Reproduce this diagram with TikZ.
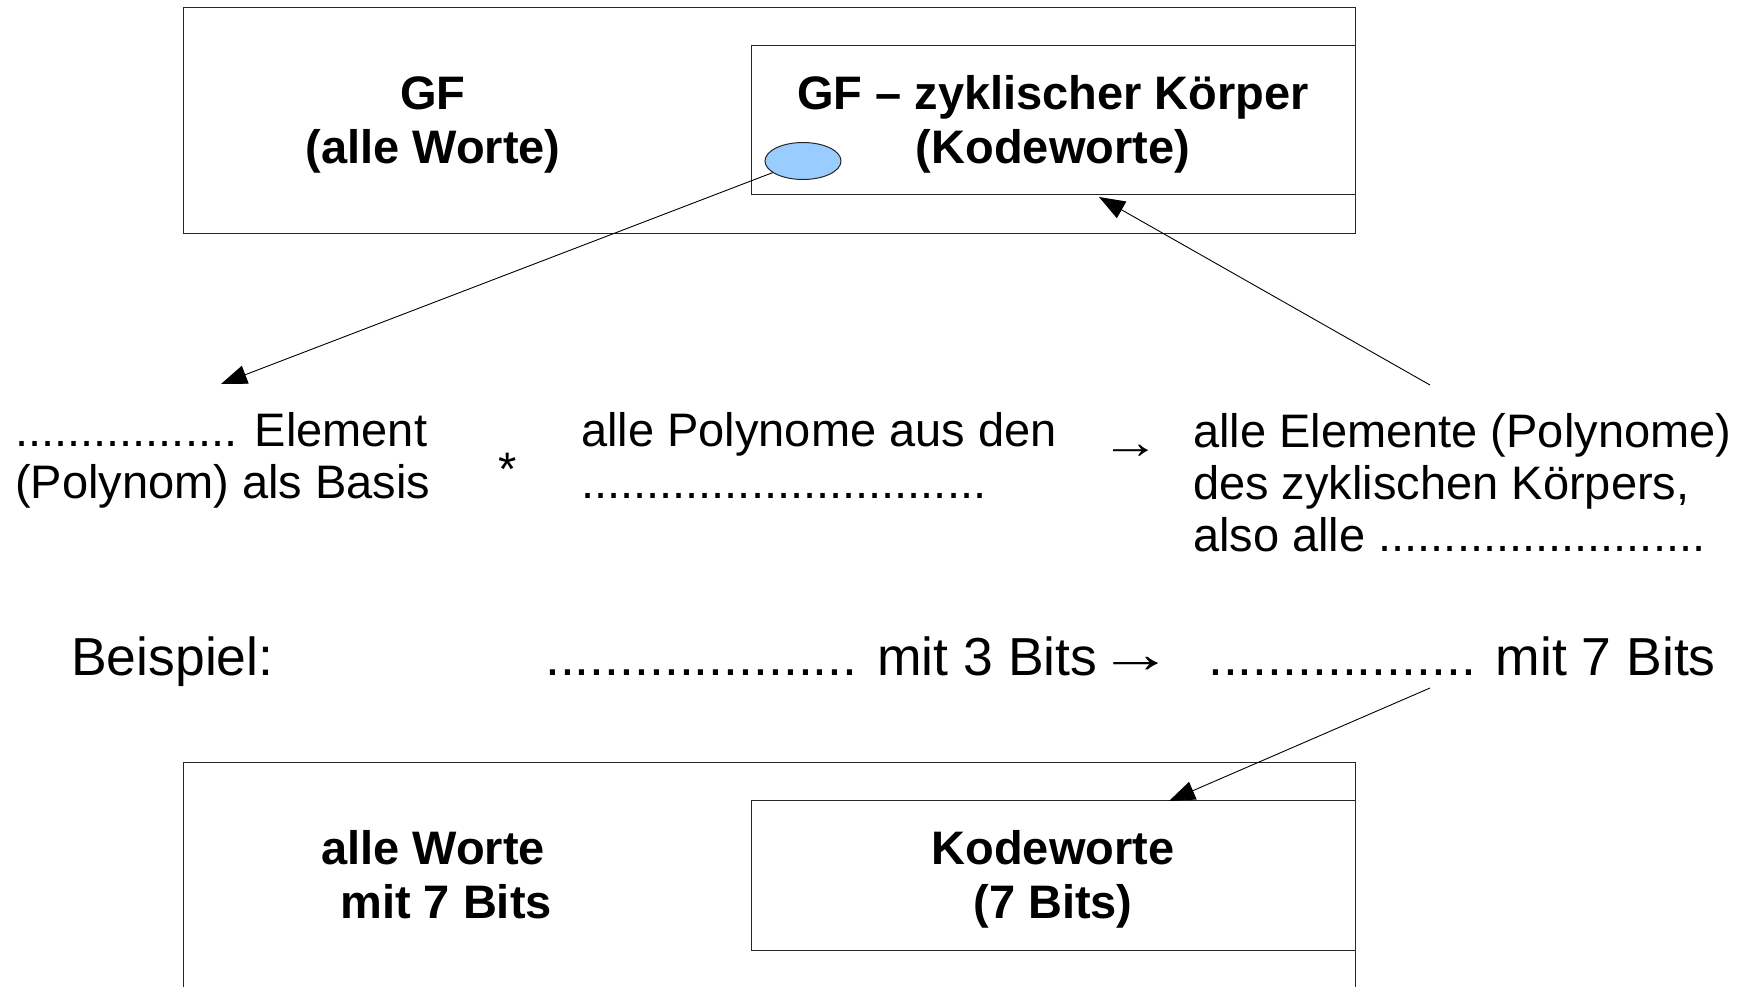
\documentclass[tikz,border=0pt]{standalone}
\usepackage{fontspec}
\setmainfont{Liberation Sans}
\usetikzlibrary{arrows.meta,shapes.geometric}
\definecolor{cellblue}{RGB}{153,204,255}

\begin{document}
\begin{tikzpicture}[x=1pt,y=-1pt,
  frame/.style={draw=black!85,line width=1.2pt,inner sep=0pt,anchor=north west},
  lbl/.style={font=\fontsize{47}{54}\selectfont\bfseries,align=center,inner sep=0pt,anchor=base},
  txt/.style={font=\fontsize{47}{52}\selectfont,align=left,inner sep=0pt,anchor=base west},
  bigtxt/.style={font=\fontsize{53.5}{60}\selectfont,inner sep=0pt,anchor=base west},
  conn/.style={line width=0.9pt,-{Triangle[length=26pt,width=19pt]}}]
\clip (0,0) rectangle (1762,986);
\fill[white] (0,0) rectangle (1762,986);

% upper field: all words and the cyclic field inside it
\node[frame,minimum width=1172pt,minimum height=226pt] (gfall) at (183,7) {};
\node[frame,minimum width=604pt,minimum height=149pt] (gfcyc) at (751,45) {};
\node[lbl] (gfalltxt) at (433,163) {GF\\(alle Worte)};
\node[lbl] (gfcyctxt) at (1053,163) {GF -- zyklischer Körper\\(Kodeworte)};
\node[ellipse,draw=black!85,line width=1pt,fill=cellblue,minimum width=76pt,minimum height=37pt,inner sep=0pt] (elem) at (803,161) {};

% explanation row
\node[txt] (basis) at (15,498) {................. Element\\(Polynom) als Basis};
\node[font=\fontsize{47}{52}\selectfont,inner sep=0pt,anchor=base] (times) at (508,485) {*};
\node[txt] (polys) at (581,498) {alle Polynome aus den\\...............................};
\node[font=\fontsize{47}{52}\selectfont,inner sep=0pt] (gives) at (1131,452) {\scalebox{1.25}[1]{→}};
\node[txt] (result) at (1193,551) {alle Elemente (Polynome)\\des zyklischen Körpers,\\also alle .........................};

% example row
\node[bigtxt] (bsp) at (71,675) {Beispiel:};
\node[bigtxt] (in3) at (545,675) {..................... mit 3 Bits\kern1pt\raisebox{3pt}{\scalebox{1.4}[1]{→}}};
\node[bigtxt] (out7) at (1208,675) {.................. mit 7 Bits};

% lower field: words with 7 bits
\node[frame,minimum width=1172pt,minimum height=300pt] (wall) at (183,762) {};
\node[frame,minimum width=604pt,minimum height=150pt] (wcode) at (751,800) {};
\node[lbl] (walltxt) at (433,918) {alle Worte\\\ \ mit 7 Bits};
\node[lbl] (wcodetxt) at (1053,918) {Kodeworte\\(7 Bits)};

% connectors
\coordinate (basisTip) at (221,384);
\coordinate (resultTail) at (1430,385);
\coordinate (cycTip) at (1099,197);
\coordinate (out7Tail) at (1430,688);
\coordinate (codeTip) at (1169,801);
\draw[conn] (elem) -- (basisTip);
\draw[conn] (resultTail) -- (cycTip);
\draw[conn] (out7Tail) -- (codeTip);
\end{tikzpicture}
\end{document}
